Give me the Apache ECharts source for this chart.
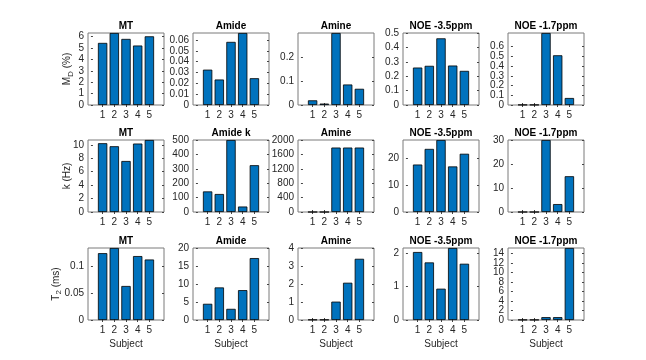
<!DOCTYPE html>
<html><head><meta charset="utf-8">
<script src="https://cdn.jsdelivr.net/npm/echarts@6/dist/echarts.min.js"></script>
<style>html,body{margin:0;padding:0;background:#fff}#c{width:646px;height:360px}</style>
</head><body><div id="c"></div>
<script>
// ---- data ----
const subjects = [1, 2, 3, 4, 5];
const titlesRow1 = ['MT', 'Amide', 'Amine', 'NOE -3.5ppm', 'NOE -1.7ppm'];
const titlesRow2 = ['MT', 'Amide k', 'Amine', 'NOE -3.5ppm', 'NOE -1.7ppm'];
const titlesRow3 = ['MT', 'Amide', 'Amine', 'NOE -3.5ppm', 'NOE -1.7ppm'];
const rowLabels = ['{a|M}{s|D}{a| (%)}', '{a|k (Hz)}', '{a|T}{s|2}{a| (ms)}'];
const xLabel = 'Subject';

// Row 1: M0 (%)
const mtM0 = [5.45, 6.32, 5.8, 5.22, 6.03];
const amideM0 = [0.0326, 0.0235, 0.0582, 0.0664, 0.0247];
const amineM0 = [0.0196, 0.006, 0.302, 0.086, 0.068];
const noe35M0 = [0.26, 0.272, 0.463, 0.274, 0.237];
const noe17M0 = [0.002, 0.002, 0.74, 0.511, 0.072];
// Row 2: k (Hz)
const mtK = [10.25, 9.8, 7.6, 10.2, 10.73];
const amideK = [143, 125, 500, 38, 325];
const amineK = [0, 0, 1790, 1790, 1790];
const noe35K = [17.6, 23.4, 26.7, 16.9, 21.6];
const noe17K = [0, 0, 30, 3.3, 14.9];
// Row 3: T2 (ms)
const mtT2 = [0.1244, 0.134, 0.0633, 0.119, 0.1126];
const amideT2 = [4.5, 9.05, 3.1, 8.3, 17.2];
const amineT2 = [0.02, 0.02, 1.02, 2.07, 3.4];
const noe35T2 = [2.03, 1.72, 0.935, 2.15, 1.68];
const noe17T2 = [0.05, 0.05, 0.6, 0.6, 15.1];

// y-axis upper limits
const yMaxRow1 = [6.32, 0.0664, 0.302, 0.5, 0.74];
const yMaxRow2 = [10.73, 500, 2000, 26.7, 30];
const yMaxRow3 = [0.134, 20, 4, 2.15, 15.1];

// y tick labels
const yTicksRow1 = [[0,1,2,3,4,5,6], [0,0.01,0.02,0.03,0.04,0.05,0.06], [0,0.1,0.2], [0,0.1,0.2,0.3,0.4,0.5], [0,0.1,0.2,0.3,0.4,0.5,0.6]];
const yTicksRow2 = [[0,2,4,6,8,10], [0,100,200,300,400,500], [0,400,800,1200,1600,2000], [0,10,20], [0,10,20,30]];
const yTicksRow3 = [[0,0.05,0.1], [0,5,10,15,20], [0,1,2,3,4], [0,1,2], [0,2,4,6,8,10,12,14]];

const rows = [
  {titles: titlesRow1, vals: [mtM0, amideM0, amineM0, noe35M0, noe17M0], ymax: yMaxRow1, ticks: yTicksRow1, gap: 13},
  {titles: titlesRow2, vals: [mtK, amideK, amineK, noe35K, noe17K], ymax: yMaxRow2, ticks: yTicksRow2, gap: 14},
  {titles: titlesRow3, vals: [mtT2, amideT2, amineT2, noe35T2, noe17T2], ymax: yMaxRow3, ticks: yTicksRow3, gap: 25}
];

// ---- layout ----
const colLeft = [88, 193, 298, 403, 508];
const rowTop = [33, 140, 248];
const W = 76, H = 72;
const FONT = '"Liberation Sans", Arial, sans-serif';
const textCol = '#262626';
const boxCol = '#7a7a7a';
const tickStyle = {color: '#444'};

const grid = [], xAxis = [], yAxis = [], series = [], title = [];
rows.forEach((row, r) => {
  row.vals.forEach((vals, c) => {
    const gi = grid.length;
    grid.push({left: colLeft[c], top: rowTop[r], width: W, height: H, show: true,
      borderColor: boxCol, borderWidth: 1, backgroundColor: '#fff'});
    title.push({text: row.titles[c], left: colLeft[c] + W / 2, top: rowTop[r] - 12, textAlign: 'center', padding: 0,
      textStyle: {fontSize: 10, fontWeight: 'bold', color: '#000', fontFamily: FONT}});
    const xBase = {gridIndex: gi, type: 'value', min: -0.25, max: 6.25,
      axisLine: {show: false}, splitLine: {show: false}};
    const xi = xAxis.length;
    xAxis.push(Object.assign({}, xBase, {position: 'bottom',
      axisTick: {show: true, inside: true, length: 2, customValues: subjects, lineStyle: tickStyle},
      axisLabel: {customValues: subjects, fontSize: 10, color: textCol, fontFamily: FONT, margin: 5,
        interval: 0, showMinLabel: true, showMaxLabel: true, hideOverlap: false},
      name: r === 2 ? xLabel : '', nameLocation: 'middle', nameGap: 19,
      nameTextStyle: {fontSize: 10, color: textCol, fontFamily: FONT}}));
    xAxis.push(Object.assign({}, xBase, {position: 'top',
      axisTick: {show: true, inside: true, length: 2, customValues: subjects, lineStyle: tickStyle},
      axisLabel: {show: false}}));
    const ticks = row.ticks[c];
    const evenTicks = ticks.filter((t, i) => i % 2 === 0);
    const oddTicks = ticks.filter((t, i) => i % 2 === 1);
    const yBase = {gridIndex: gi, type: 'value', min: 0, max: row.ymax[c],
      axisLine: {show: false}, splitLine: {show: false}};
    const labelBase = {fontSize: 10, color: textCol, fontFamily: FONT, margin: 4,
      interval: 0, showMinLabel: true, showMaxLabel: true, hideOverlap: false, formatter: v => String(v)};
    const yi = yAxis.length;
    yAxis.push(Object.assign({}, yBase, {position: 'left', offset: 0,
      axisTick: {show: true, inside: true, length: 2, customValues: ticks, lineStyle: tickStyle},
      axisLabel: Object.assign({customValues: evenTicks}, labelBase),
      name: c === 0 ? rowLabels[r] : '', nameLocation: 'middle', nameRotate: 90, nameGap: row.gap,
      nameTextStyle: {color: textCol, fontFamily: FONT,
        rich: {a: {fontSize: 10, lineHeight: 14, color: textCol, fontFamily: FONT},
               s: {fontSize: 8, lineHeight: 8, verticalAlign: 'bottom', color: textCol, fontFamily: FONT}}}}));
    yAxis.push(Object.assign({}, yBase, {position: 'left', offset: 0,
      axisTick: {show: false},
      axisLabel: Object.assign({show: oddTicks.length > 0, customValues: oddTicks.length ? oddTicks : [0]}, labelBase)}));
    yAxis.push(Object.assign({}, yBase, {position: 'right',
      axisTick: {show: true, inside: true, length: 2, customValues: ticks, lineStyle: tickStyle},
      axisLabel: {show: false}}));
    series.push({type: 'bar', xAxisIndex: xi, yAxisIndex: yi, silent: true,
      data: subjects.map((s, j) => [s, vals[j]]), barWidth: '80%',
      itemStyle: {color: '#0072BD', borderColor: '#000', borderWidth: 0.8}});
  });
});

const chart = echarts.init(document.getElementById('c'), null, {renderer: 'canvas'});
chart.setOption({animation: false, backgroundColor: '#fff', textStyle: {fontFamily: FONT},
  title, grid, xAxis, yAxis, series});
</script></body></html>
